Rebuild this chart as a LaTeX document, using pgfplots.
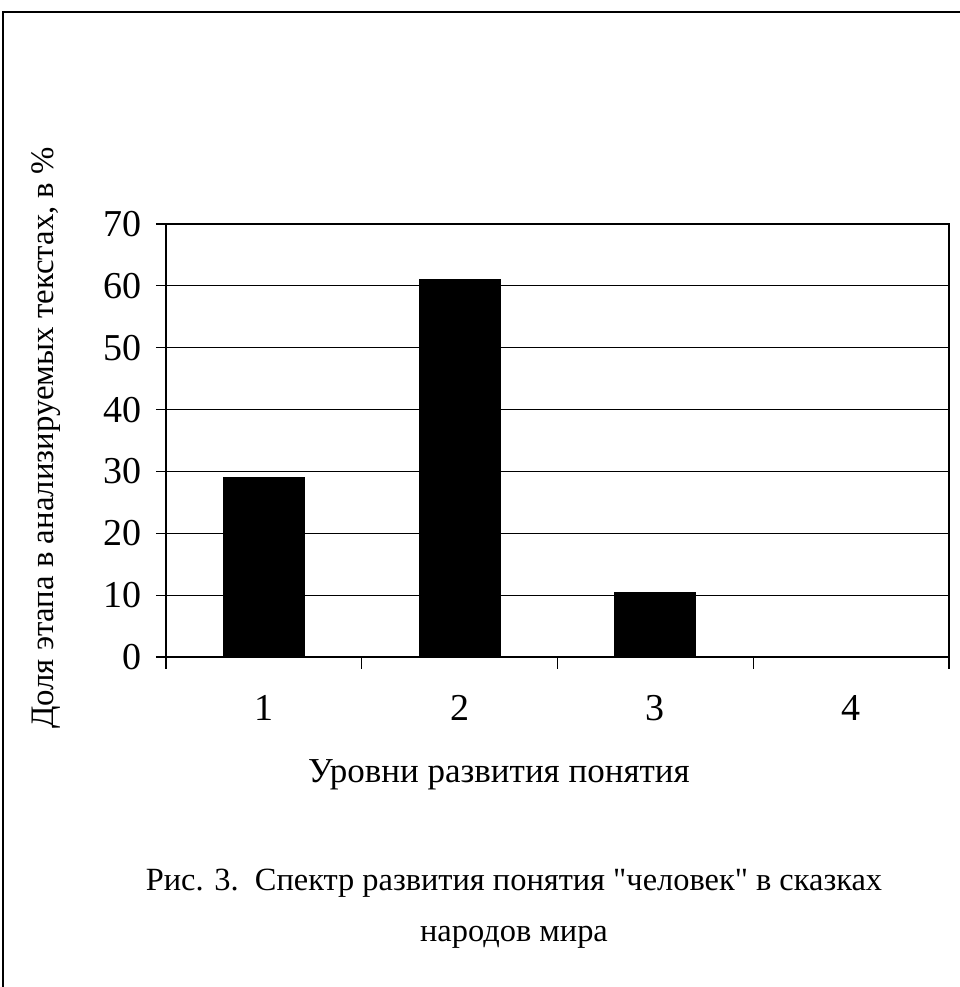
\documentclass[border=0pt]{standalone}
\usepackage{pgfplots}
\pgfplotsset{compat=1.18}
\usepackage{fontspec}
\setmainfont{Liberation Serif}
\begin{document}
\begin{tikzpicture}
\useasboundingbox (0,0) rectangle (480pt,493.5pt);
% page frame (only top and left edges are visible)
\draw[line width=0.7pt] (1.5pt,0) -- (1.5pt,487.5pt) -- (480pt,487.5pt);
\begin{axis}[
    at={(83pt,165pt)}, anchor=south west,
    scale only axis, width=391.5pt, height=216.5pt,
    xmin=0.5, xmax=4.5, ymin=0, ymax=70,
    ytick={0,10,...,70},
    xtick={1,2,3,4},
    minor xtick={0.5,1.5,2.5,3.5,4.5},
    major x tick style={draw=none},
    tick align=outside, tick pos=left,
    major tick length=5pt, minor tick length=6pt,
    tick style={black, line width=0.6pt},
    ymajorgrids, grid style={black, line width=0.6pt},
    axis line style={black, line width=0.8pt},
    /pgf/number format/assume math mode=true,
    ticklabel style={font=\fontsize{19}{19}\selectfont},
    yticklabel style={xshift=-3.5pt},
    xticklabel style={yshift=-10.7pt},
    ybar, bar width=40.5pt,
]
\addplot[fill=black, draw=black] coordinates {(1,29) (2,61) (3,10.4) (4,0)};
\end{axis}
\node[rotate=90, font=\fontsize{16.4}{16.4}\selectfont] at (23pt,274.5pt) {Доля этапа в анализируемых текстах, в \%};
\node[font=\fontsize{17.5}{17.5}\selectfont] at (249.5pt,106pt) {Уровни развития понятия};
\node[font=\fontsize{16.2}{16.2}\selectfont] at (257pt,52pt) {Рис. 3.\ \ Спектр развития понятия \textquotedbl человек\textquotedbl\ в сказках};
\node[font=\fontsize{16.2}{16.2}\selectfont] at (257pt,25pt) {народов мира};
\end{tikzpicture}
\end{document}
